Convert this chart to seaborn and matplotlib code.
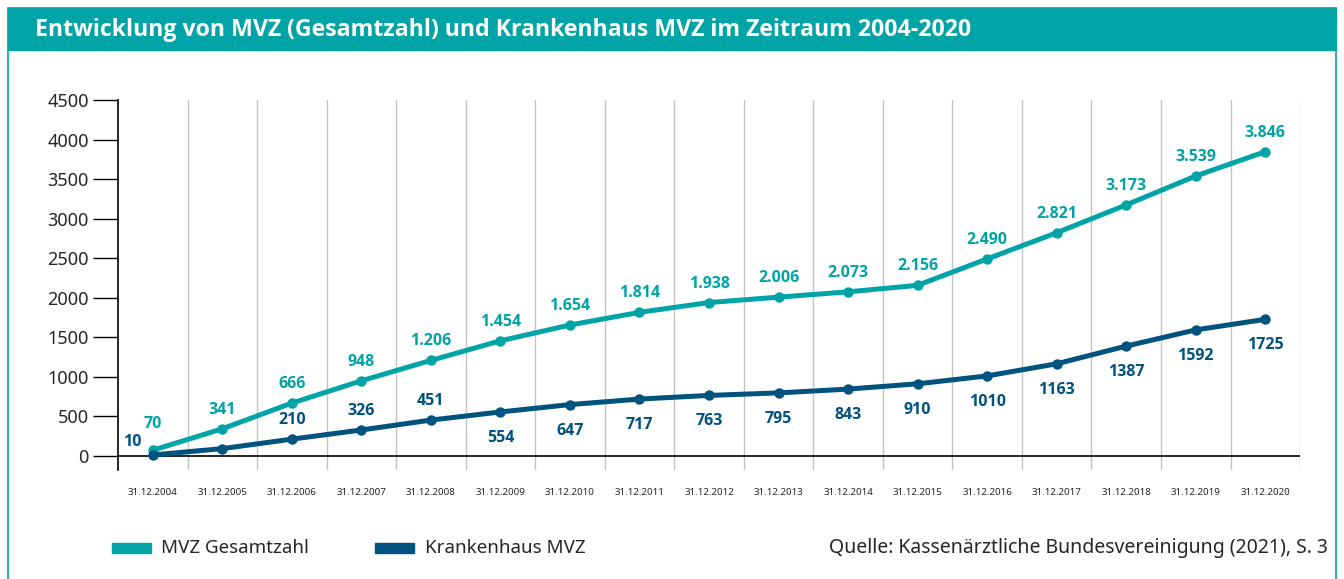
import matplotlib
matplotlib.use("Agg")
import matplotlib.pyplot as plt
from matplotlib.patches import Rectangle
import numpy as np
import pandas as pd
import seaborn as sns

dates = ["31.12.2004", "31.12.2005", "31.12.2006", "31.12.2007", "31.12.2008",
         "31.12.2009", "31.12.2010", "31.12.2011", "31.12.2012", "31.12.2013",
         "31.12.2014", "31.12.2015", "31.12.2016", "31.12.2017", "31.12.2018",
         "31.12.2019", "31.12.2020"]
mvz_total = [70, 341, 666, 948, 1206, 1454, 1654, 1814, 1938, 2006, 2073,
             2156, 2490, 2821, 3173, 3539, 3846]
mvz_hospital = [10, 90, 210, 326, 451, 554, 647, 717, 763, 795, 843, 910,
                1010, 1163, 1387, 1592, 1725]
# which hospital values are shown (2005 has no label in the source)
hospital_labelled = [True, False] + [True] * 15

TEAL = "#00A4A6"
NAVY = "#00527F"

sns.set_theme(style="white")
plt.rcParams["font.family"] = ["Noto Sans", "DejaVu Sans"]

df = pd.DataFrame({"pos": np.arange(len(dates)), "total": mvz_total,
                   "hospital": mvz_hospital})

fig = plt.figure(figsize=(13.44, 5.79), dpi=100)
ax = fig.add_axes([0.0878, 0.1883, 0.8795, 0.639])

# title bar and frame
fig.patches.append(Rectangle((8 / 1344, 1 - 50 / 579), 1328 / 1344, 42 / 579,
                             transform=fig.transFigure, color=TEAL, zorder=0))
fig.patches.append(Rectangle((8 / 1344, -0.01), 1328 / 1344, 1 - 8 / 579 + 0.01,
                             transform=fig.transFigure, fill=False,
                             edgecolor=TEAL, linewidth=1.2, zorder=0))
fig.text(35 / 1344, 1 - 30 / 579,
         "Entwicklung von MVZ (Gesamtzahl) und Krankenhaus MVZ im Zeitraum 2004-2020",
         color="white", fontsize=16.7, fontweight="bold", va="center", ha="left",
         family=["Open Sans", "DejaVu Sans"])

for b in np.arange(len(dates)) + 0.5:
    ax.axvline(b, color="#c4c4c4", linewidth=1, zorder=0)
ax.axhline(0, color="black", linewidth=1.2, zorder=1)

sns.lineplot(data=df, x="pos", y="total", ax=ax, color=TEAL, linewidth=3.6,
             marker="o", markersize=7.5, markeredgewidth=0, zorder=3)
sns.lineplot(data=df, x="pos", y="hospital", ax=ax, color=NAVY, linewidth=3.6,
             marker="o", markersize=7.5, markeredgewidth=0, zorder=3)

lbl = dict(fontsize=11.5, fontweight="bold", ha="center", va="center",
           textcoords="offset pixels", family=["Open Sans", "DejaVu Sans"])
for i, v in enumerate(mvz_total):
    txt = f"{v:,}".replace(",", ".")
    dy = 26 if i == 0 else 19
    ax.annotate(txt, (i, v), xytext=(0, dy), color=TEAL, **lbl)
for i, v in enumerate(mvz_hospital):
    if not hospital_labelled[i]:
        continue
    if i == 0:
        off = (-20, 13)
    elif i <= 4:
        off = (0, 19)
    else:
        off = (0, -26)
    ax.annotate(str(v), (i, v), xytext=off, color=NAVY, **lbl)

ax.set_xlim(-0.5, len(dates) - 0.5)
ax.set_ylim(-180, 4500)
ax.set_yticks(range(0, 4501, 500))
ax.set_xticks(df["pos"])
ax.set_xticklabels(dates, fontsize=7)
ax.tick_params(axis="x", length=0, pad=13)
ax.tick_params(axis="y", length=18, width=1, direction="out", labelsize=13,
               color="black", left=True, pad=3)
ax.set_xlabel("")
ax.set_ylabel("")
for s in ["top", "right", "bottom"]:
    ax.spines[s].set_visible(False)
ax.spines["left"].set_color("black")
ax.spines["left"].set_linewidth(1.2)

# legend and source at the bottom
ly = 1 - 548 / 579
fig.patches.append(Rectangle((112 / 1344, ly - 5 / 579), 39 / 1344, 10 / 579,
                             transform=fig.transFigure, color=TEAL))
fig.text(161 / 1344, ly, "MVZ Gesamtzahl", fontsize=13.5, va="center")
fig.patches.append(Rectangle((375 / 1344, ly - 5 / 579), 39 / 1344, 10 / 579,
                             transform=fig.transFigure, color=NAVY))
fig.text(425 / 1344, ly, "Krankenhaus MVZ", fontsize=13.5, va="center")
fig.text(1328 / 1344, ly, "Quelle: Kassenärztliche Bundesvereinigung (2021), S. 3",
         fontsize=14, va="center", ha="right")

fig.savefig("out.png", dpi=100)
